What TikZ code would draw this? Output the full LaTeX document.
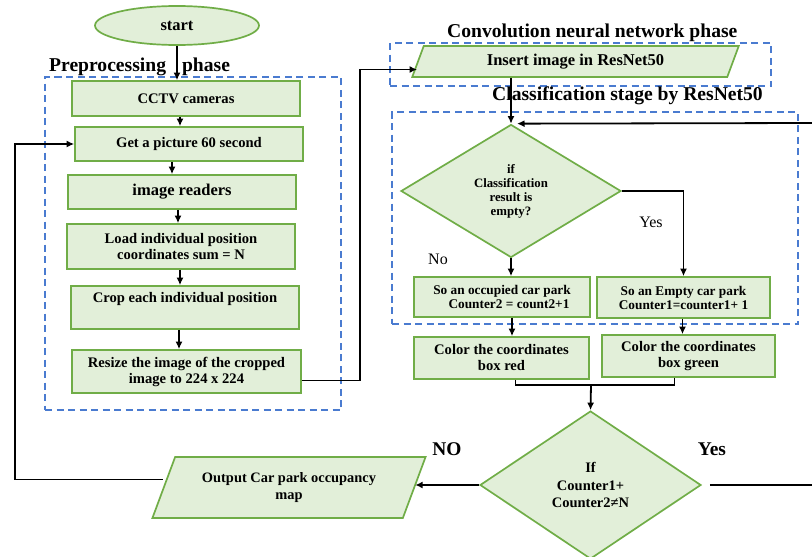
\documentclass[tikz,border=0pt]{standalone}
\usepackage{fontspec}
\setmainfont{Liberation Serif}
\usetikzlibrary{shapes.geometric,arrows.meta}
\definecolor{gfill}{HTML}{E2EFD9}
\definecolor{gborder}{HTML}{70AD47}
\definecolor{dblue}{HTML}{4A7BD0}
\newcommand{\fs}[2]{\fontsize{#1}{#2}\selectfont}
\tikzset{
  proc/.style={rectangle, draw=gborder, fill=gfill, line width=1.7pt, align=center, inner sep=0pt, font=\bfseries\fs{14.6}{16}},
  io/.style={trapezium, trapezium stretches=true, draw=gborder, fill=gfill, line width=1.7pt, align=center, inner sep=0pt, font=\bfseries\fs{14.4}{17}},
  dec/.style={diamond, draw=gborder, fill=gfill, line width=1.7pt, align=center, inner sep=0pt},
  phasebox/.style={draw=dblue, line width=1.8pt, dash pattern=on 7pt off 4.5pt},
  phaselabel/.style={font=\bfseries\fs{19.6}{22}, inner sep=0pt, anchor=base west},
  arr/.style={-{Latex[length=7.5pt,width=7pt]}, line width=1.8pt, black},
  lin/.style={line width=1.8pt, black},
  lbl/.style={font=\fs{16}{18}, inner sep=0pt},
  blbl/.style={font=\bfseries\fs{19.4}{22}, inner sep=0pt}
}
\begin{document}
\begin{tikzpicture}[x=1pt,y=-1pt]
\useasboundingbox (0,0) rectangle (812,557);
% phase frames
\node[phasebox, draw, minimum width=296pt, minimum height=333pt, inner sep=0pt] (pre) at (193,243.5) {};
\node[phasebox, draw, minimum width=381pt, minimum height=43pt, inner sep=0pt] (cnn) at (580.5,64.5) {};
\node[phasebox, draw, minimum width=406pt, minimum height=212pt, inner sep=0pt] (cls) at (595,218) {};
\node[phaselabel] (prel) at (49,71) {Preprocessing\hspace{16pt}phase};
\node[phaselabel] (cnnl) at (447,37.5) {Convolution neural network phase};
\node[phaselabel] (clsl) at (492,100.5) {Classification stage by ResNet50};
% left column
\node[ellipse, draw=gborder, fill=gfill, line width=1.7pt, minimum width=164pt, minimum height=39pt, inner sep=0pt, font=\bfseries\fs{16.5}{18}] (start) at (177,25.5) {start};
\node[proc, minimum width=228pt, minimum height=35pt] (cctv) at (186,98.5) {CCTV cameras};
\node[proc, minimum width=228pt, minimum height=34pt] (get) at (189,144) {Get a picture 60 second};
\node[proc, minimum width=228pt, minimum height=34pt, font=\bfseries\fs{16.5}{18}] (read) at (182,192) {image readers};
\node[proc, minimum width=228pt, minimum height=45pt, font=\bfseries\fs{14.6}{15.5}] (load) at (181,246.5) {Load individual position\\coordinates sum = N};
\node[proc, minimum width=228pt, minimum height=43pt] (crop) at (185,307.5) {Crop each individual position\\[5pt]};
\node[proc, minimum width=229pt, minimum height=43pt] (resize) at (186.5,371.5) {Resize the image of the cropped\\image to 224 x 224};
% right column
\node[io, trapezium left angle=66, trapezium right angle=114, minimum width=327pt, minimum height=31pt, font=\bfseries\fs{16.5}{18}] (insert) at (575.5,61.5) {Insert image in ResNet50};
\node[dec, minimum width=220pt, minimum height=133pt, font=\bfseries\fs{12.8}{14}] (d1) at (511,191) {if\\Classification\\result is\\empty?};
\node[proc, minimum width=176pt, minimum height=40pt, font=\bfseries\fs{13.3}{14}] (occ) at (502,297) {So an occupied car park\\\hspace{14pt}Counter2 = count2+1};
\node[proc, minimum width=173pt, minimum height=41pt, font=\bfseries\fs{13.3}{14}] (emp) at (683.5,297.5) {So an Empty car park\\Counter1=counter1+ 1};
\node[proc, minimum width=175pt, minimum height=42pt] (red) at (501.5,358) {Color the coordinates\\box red};
\node[proc, minimum width=173pt, minimum height=42pt] (green) at (688.5,356) {Color the coordinates\\box green};
\node[dec, minimum width=221pt, minimum height=148pt, font=\bfseries\fs{14.5}{17.5}] (d2) at (590.5,485) {If\\Counter1+\\Counter2≠N};
\node[io, trapezium left angle=60, trapezium right angle=120, minimum width=274pt, minimum height=61pt] (out) at (289,487.5) {Output Car park occupancy\\map};
% labels
\node[lbl] (yes1) at (651,222) {Yes};
\node[lbl] (no1) at (438,259) {No};
\node[blbl] (no2) at (447,449) {NO};
\node[blbl] (yes2) at (712,449) {Yes};
% coordinates
\coordinate (mrg) at (591,385);
\coordinate (lp) at (15,300);
\coordinate (rE) at (812,486);
\coordinate (rT) at (812,123);
% connectors
\draw[arr] (start.south) -- (start.south |- cctv.north);
\draw[arr] ([xshift=-6pt]cctv.south) -- ([xshift=-6pt]cctv.south |- get.north);
\draw[arr] ([xshift=-17pt]get.south) -- ([xshift=-17pt]get.south |- read.north);
\draw[arr] ([xshift=-4pt]read.south) -- ([xshift=-4pt]read.south |- load.north);
\draw[arr] ([xshift=-1pt]load.south) -- ([xshift=-1pt]load.south |- crop.north);
\draw[arr] ([xshift=-6pt]crop.south) -- ([xshift=-6pt]crop.south |- resize.north);
\draw[arr] ([yshift=-9pt]resize.east) -- ++(58.5pt,0) |- ([yshift=-8pt]insert.west);
\draw[arr] (insert.south -| d1.north) -- (d1.north);
\draw[arr] (d1.east) -| (emp.north);
\draw[arr] (d1.south) -- (d1.south |- occ.north);
\draw[arr] ([xshift=10pt]occ.south) -- ([xshift=10pt]occ.south |- red.north);
\draw[arr] ([xshift=-1pt]emp.south) -- ([xshift=-1pt]emp.south |- green.north);
\draw[lin] ([xshift=14pt]red.south) |- (mrg);
\draw[lin] ([xshift=-14pt]green.south) |- (mrg);
\draw[arr] (mrg) -- (d2.north);
\draw[arr] (d2.west) -- (d2.west -| out.east);
\draw[arr] ([yshift=8pt]out.west) -| (lp) |- (get.west);
\draw[lin] ([xshift=8pt]d2.east) -- (d2.east -| rE);
\draw[arr] (rT) -- ([xshift=6pt]d1.north);
\end{tikzpicture}
\end{document}
